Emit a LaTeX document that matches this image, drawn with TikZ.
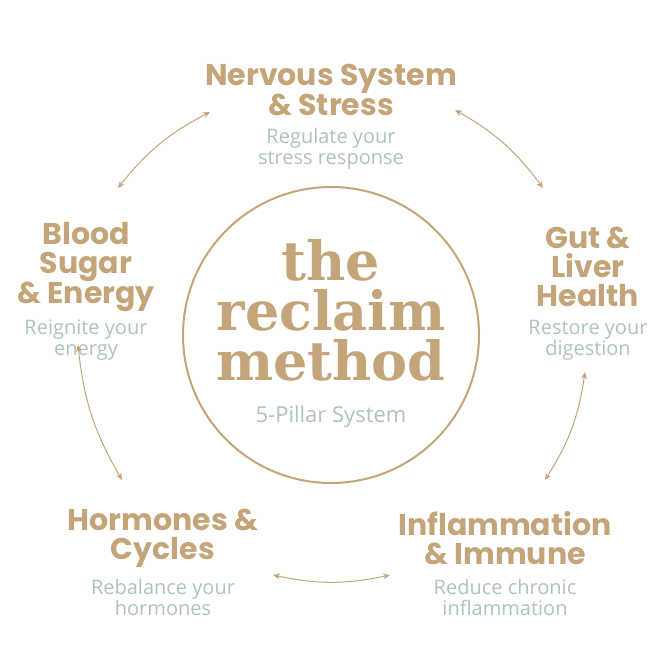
\documentclass[tikz,border=0pt]{standalone}
\usepackage{fontspec}
\setmainfont{Poppins}
\newfontfamily\subfont{Open Sans}
\newfontfamily\bigfont{DejaVu Serif}
\usetikzlibrary{arrows.meta}
\definecolor{gold}{HTML}{C4A57A}
\definecolor{sage}{HTML}{AEC3B9}
\begin{document}
\begin{tikzpicture}[x=1pt,y=-1pt,
	pillar/.style={text=gold, font=\fontsize{30}{29}\selectfont\bfseries, align=center},
	hint/.style={text=sage, font=\subfont\fontsize{20}{21}\selectfont, align=center},
	link/.style={draw=gold, line width=1pt, {Stealth[length=7pt,width=6pt]}-{Stealth[length=7pt,width=6pt]}}
	]
	\useasboundingbox (0,0) rectangle (662,662);
	% centre
	\node[circle, draw=gold, line width=2pt, minimum size=296pt] (hub) at (331,335) {};
	\node[text=gold, font=\bigfont\fontsize{54}{50}\selectfont\bfseries, align=center] (name) at (331,310) {the\\reclaim\\method};
	\node[hint, font=\subfont\fontsize{22}{24}\selectfont] (tag) at (331,417) {5-Pillar System};
	% pillars
	\node[pillar] (nerve) at (331,90) {Nervous System\\\& Stress};
	\node[hint] (nervehint) at (331,149) {Regulate your\\stress response};
	\node[pillar] (gut) at (588,267) {Gut \&\\Liver\\Health};
	\node[hint] (guthint) at (588,340) {Restore your\\digestion};
	\node[pillar] (infl) at (505,538) {Inflammation\\\& Immune};
	\node[hint] (inflhint) at (505,597) {Reduce chronic\\inflammation};
	\node[pillar] (horm) at (163,538) {Hormones \&\\Cycles};
	\node[hint] (hormhint) at (163,597) {Rebalance your\\hormones};
	\node[pillar] (blood) at (86,267) {Blood\\Sugar\\\& Energy};
	\node[hint] (bloodhint) at (86,340) {Reignite your\\energy};
	% arrow ends
	\coordinate (a1) at (118,188); \coordinate (a2) at (210,112);
	\coordinate (b1) at (455,110); \coordinate (b2) at (543,188);
	\coordinate (c1) at (585,372); \coordinate (c2) at (545,480);
	\coordinate (d1) at (390,575); \coordinate (d2) at (273,575);
	\coordinate (e1) at (122,480); \coordinate (e2) at (78,345);
	\draw[link] (a1) to[bend left=12] (a2);
	\draw[link] (b1) to[bend left=12] (b2);
	\draw[link] (c1) to[bend left=12] (c2);
	\draw[link] (d1) to[bend left=12] (d2);
	\draw[link] (e1) to[bend left=12] (e2);
\end{tikzpicture}
\end{document}
